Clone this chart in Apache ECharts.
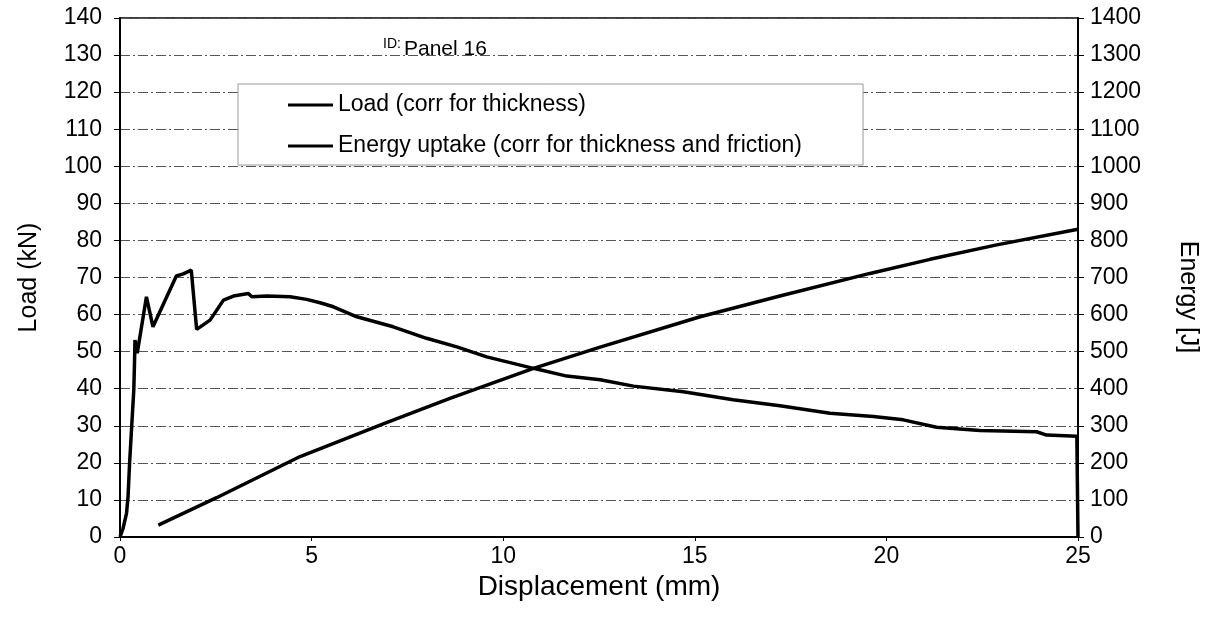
<!DOCTYPE html>
<html>
<head>
<meta charset="utf-8">
<script src="https://cdn.jsdelivr.net/npm/echarts@6/dist/echarts.min.js"></script>
<style>
html,body{margin:0;padding:0;background:#fff;}
#chart{width:1208px;height:623px;}
</style>
</head>
<body>
<div id="chart"></div>
<script>
// ---- data ----
const loadX = [0, 0.08, 0.17, 0.21, 0.25, 0.31, 0.36, 0.38, 0.39, 0.45, 0.69, 0.86, 1.47, 1.65, 1.86, 1.91, 2.0, 2.35, 2.7, 2.96, 3.35, 3.44, 3.83, 4.44, 4.87, 5.22, 5.57, 6.18, 7.13, 8.0, 8.79, 9.57, 10.79, 11.66, 12.53, 13.4, 14.7, 16.0, 17.22, 18.53, 19.66, 20.44, 21.31, 22.44, 23.92, 24.18, 24.97, 25.0, 25.0];
const loadY = [0, 2.3, 6.4, 10.9, 19.9, 30.7, 39.7, 47.7, 53.1, 49.6, 64.8, 56.7, 70.4, 71.0, 72.0, 72.2, 56.0, 58.5, 63.9, 65.0, 65.7, 64.8, 65.0, 64.8, 64.1, 63.2, 62.1, 59.4, 56.7, 53.6, 51.3, 48.6, 45.5, 43.4, 42.4, 40.7, 39.2, 37.0, 35.4, 33.4, 32.5, 31.6, 29.6, 28.7, 28.4, 27.5, 27.2, 27.0, 0];
const energyX = [1.0, 2.52, 4.70, 6.87, 8.61, 10.79, 12.53, 15.14, 17.22, 19.57, 21.14, 22.88, 25.0];
const energyY = [32, 106, 217, 305, 374, 455, 512, 594, 650, 711, 749, 788, 830];
const seriesNames = ['Load (corr for thickness)', 'Energy uptake (corr for thickness and friction)'];
const xTicks = {min: 0, max: 25, interval: 5};
const loadTicks = {min: 0, max: 140, interval: 10};
const energyTicks = {min: 0, max: 1400, interval: 100};

const pairs = (xs, ys) => xs.map((x, i) => [x, ys[i]]);
const F = '"Liberation Sans", Arial, sans-serif';

const chart = echarts.init(document.getElementById('chart'));
chart.setOption({
  animation: false,
  backgroundColor: '#fff',
  grid: {left: 120, right: 130, top: 18, bottom: 86, show: true, borderColor: '#000', borderWidth: 1.5, backgroundColor: 'transparent'},
  legend: {
    orient: 'vertical', left: 238, top: 84,
    padding: [9, 61, 7, 50],
    itemGap: 17, itemWidth: 45, itemHeight: 3, icon: 'rect',
    backgroundColor: '#fff', borderColor: '#999', borderWidth: 1,
    textStyle: {fontFamily: F, fontSize: 23, color: '#000', lineHeight: 24},
    data: seriesNames
  },
  graphic: [
    {type: 'text', left: 383, top: 37, z: 10, style: {text: 'ID:', font: '14px "Liberation Sans", Arial', fill: '#000'}},
    {type: 'text', left: 404, top: 39, z: 10, style: {text: 'Panel 16', font: '21px "Liberation Sans", Arial', fill: '#000'}},
    {type: 'text', x: 1188, y: 297, rotation: -Math.PI / 2, z: 10,
     style: {text: 'Energy [J]', font: '25px "Liberation Sans", Arial', fill: '#000', align: 'center', verticalAlign: 'middle'}}
  ],
  xAxis: {
    type: 'value', min: xTicks.min, max: xTicks.max, interval: xTicks.interval,
    name: 'Displacement (mm)', nameLocation: 'middle', nameGap: 29,
    nameTextStyle: {fontFamily: F, fontSize: 28, color: '#000'},
    axisLine: {show: true, onZero: false, lineStyle: {color: '#000', width: 2}},
    axisTick: {show: true, inside: false, length: 4, lineStyle: {color: '#000'}},
    axisLabel: {fontFamily: F, fontSize: 23, color: '#000', margin: 8},
    splitLine: {show: false}
  },
  yAxis: [
    {
      type: 'value', position: 'left', min: loadTicks.min, max: loadTicks.max, interval: loadTicks.interval,
      name: 'Load (kN)', nameLocation: 'middle', nameGap: 78,
      nameTextStyle: {fontFamily: F, fontSize: 25, color: '#000'},
      axisLine: {show: true, lineStyle: {color: '#000', width: 2}},
      axisTick: {show: true, inside: false, length: 6, lineStyle: {color: '#000'}},
      axisLabel: {fontFamily: F, fontSize: 23, color: '#000', margin: 18},
      splitLine: {show: true, lineStyle: {color: '#555', width: 1, type: [10, 3, 2, 3]}}
    },
    {
      type: 'value', position: 'right', min: energyTicks.min, max: energyTicks.max, interval: energyTicks.interval,
      axisLine: {show: true, lineStyle: {color: '#000', width: 2}},
      axisTick: {show: true, inside: false, length: 6, lineStyle: {color: '#000'}},
      axisLabel: {fontFamily: F, fontSize: 23, color: '#000', margin: 12, formatter: v => String(v)},
      splitLine: {show: false}
    }
  ],
  series: [
    {
      name: seriesNames[0], type: 'line', yAxisIndex: 0, data: pairs(loadX, loadY),
      showSymbol: false, symbol: 'none', smooth: false, z: 5,
      lineStyle: {color: '#000', width: 3.5}, itemStyle: {color: '#000'}
    },
    {
      name: seriesNames[1], type: 'line', yAxisIndex: 1, data: pairs(energyX, energyY),
      showSymbol: false, symbol: 'none', smooth: false, z: 5,
      lineStyle: {color: '#000', width: 3.5}, itemStyle: {color: '#000'}
    }
  ]
});
</script>
</body>
</html>
